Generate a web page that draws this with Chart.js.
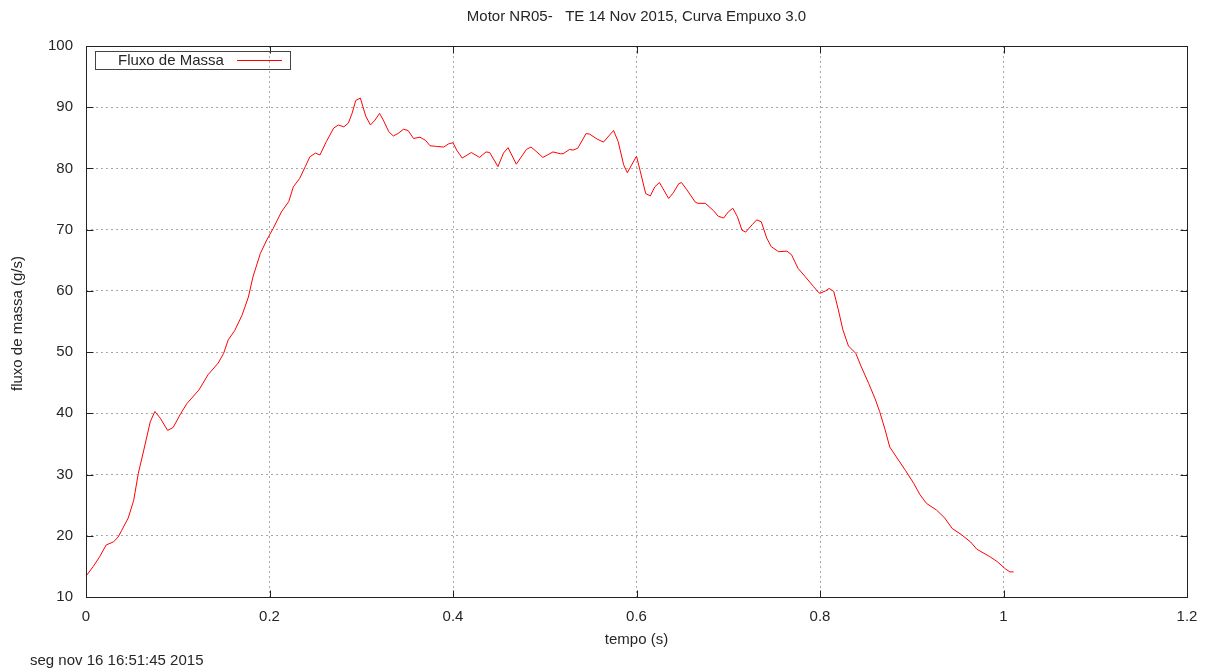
<!DOCTYPE html>
<html>
<head>
<meta charset="utf-8">
<script src="https://cdn.jsdelivr.net/npm/chart.js@4/dist/chart.umd.min.js"></script>
<style>
  html, body { margin: 0; padding: 0; background: #fff; overflow: hidden; }
  #wrap { width: 1211px; height: 672px; position: relative; }
</style>
</head>
<body>
<div id="wrap"><canvas id="c" width="1211" height="672"></canvas></div>
<script>
// Texts
const chartTitle = 'Motor NR05-   TE 14 Nov 2015, Curva Empuxo 3.0';
const seriesName = 'Fluxo de Massa';
const xAxisLabel = 'tempo (s)';
const yAxisLabel = 'fluxo de massa (g/s)';
const stampText = 'seg nov 16 16:51:45 2015';

// Tick values
const xTicks = [0, 0.2, 0.4, 0.6, 0.8, 1, 1.2];
const yTicks = [10, 20, 30, 40, 50, 60, 70, 80, 90, 100];

// Time (s)
const tempo = [
  0.000, 0.008, 0.015, 0.022, 0.030, 0.035, 0.039, 0.046, 0.052, 0.057,
  0.063, 0.070, 0.075, 0.081, 0.089, 0.095, 0.103, 0.110, 0.123, 0.133,
  0.144, 0.150, 0.155, 0.162, 0.170, 0.177, 0.182, 0.190, 0.197, 0.204,
  0.213, 0.221, 0.226, 0.233, 0.239, 0.244, 0.250, 0.255, 0.262, 0.270,
  0.275, 0.281, 0.286, 0.290, 0.294, 0.299, 0.305, 0.310, 0.315, 0.320,
  0.324, 0.330, 0.335, 0.340, 0.346, 0.351, 0.357, 0.364, 0.370, 0.375,
  0.382, 0.390, 0.395, 0.400, 0.404, 0.410, 0.420, 0.429, 0.436, 0.440,
  0.449, 0.455, 0.460, 0.469, 0.480, 0.485, 0.489, 0.498, 0.509, 0.517,
  0.520, 0.527, 0.531, 0.536, 0.545, 0.549, 0.557, 0.564, 0.575, 0.580,
  0.586, 0.590, 0.600, 0.604, 0.610, 0.615, 0.620, 0.625, 0.635, 0.640,
  0.646, 0.649, 0.655, 0.664, 0.667, 0.675, 0.684, 0.689, 0.695, 0.700,
  0.705, 0.710, 0.715, 0.719, 0.726, 0.731, 0.736, 0.742, 0.747, 0.755,
  0.764, 0.769, 0.776, 0.784, 0.793, 0.798, 0.800, 0.806, 0.810, 0.815,
  0.820, 0.825, 0.831, 0.839, 0.845, 0.853, 0.860, 0.865, 0.871, 0.876,
  0.884, 0.893, 0.902, 0.909, 0.916, 0.927, 0.936, 0.944, 0.954, 0.964,
  0.971, 0.985, 0.993, 1.002, 1.007, 1.011
];

// Mass flow (g/s)
const fluxo = [
  13.4, 15.0, 16.6, 18.5, 19.0, 19.8, 20.9, 22.9, 25.8, 30.2,
  34.0, 38.6, 40.3, 39.2, 37.2, 37.7, 39.9, 41.6, 43.8, 46.3,
  48.2, 49.8, 52.0, 53.5, 56.0, 59.0, 62.3, 66.1, 68.3, 70.2,
  72.9, 74.6, 77.0, 78.4, 80.3, 81.9, 82.5, 82.2, 84.4, 86.6,
  87.1, 86.8, 87.4, 89.0, 91.1, 91.5, 88.5, 87.1, 87.9, 89.0,
  87.9, 86.0, 85.3, 85.7, 86.4, 86.2, 84.9, 85.1, 84.6, 83.7,
  83.6, 83.5, 84.0, 84.2, 83.0, 81.7, 82.6, 81.8, 82.7, 82.6,
  80.3, 82.5, 83.4, 80.7, 83.1, 83.5, 83.0, 81.8, 82.7, 82.4,
  82.4, 83.1, 83.0, 83.3, 85.7, 85.6, 84.8, 84.3, 86.2, 84.4,
  80.6, 79.3, 82.0, 79.6, 75.9, 75.5, 77.0, 77.7, 75.1, 76.0,
  77.5, 77.7, 76.5, 74.5, 74.3, 74.3, 73.1, 72.2, 71.9, 72.9,
  73.5, 72.1, 69.9, 69.6, 70.8, 71.6, 71.3, 68.6, 67.2, 66.4,
  66.5, 65.9, 63.7, 62.3, 60.7, 59.8, 59.6, 60.0, 60.4, 59.9,
  56.9, 53.6, 51.0, 49.8, 47.6, 44.9, 42.4, 40.3, 37.3, 34.5,
  32.7, 30.7, 28.6, 26.7, 25.3, 24.2, 22.9, 21.2, 20.2, 19.0,
  17.8, 16.6, 15.8, 14.6, 14.1, 14.1
];

const FONT = '"Liberation Sans", Arial, sans-serif';
const FONT_SIZE = 15;
const TEXT_COLOR = '#262626';
const FRAME_COLOR = '#222';
const TICK_LEN = 7;

// Plot frame, inward tick marks, titles, key box and date stamp
const decorations = {
  id: 'decorations',
  afterDraw(chart) {
    const { ctx, chartArea: a, scales } = chart;
    const L = Math.round(a.left) + 0.5, R = Math.round(a.right) + 0.5;
    const T = Math.round(a.top) + 0.5, B = Math.round(a.bottom) + 0.5;
    ctx.save();
    ctx.strokeStyle = FRAME_COLOR;
    ctx.lineWidth = 1;
    ctx.setLineDash([]);
    ctx.strokeRect(L, T, R - L, B - T);

    ctx.beginPath();
    yTicks.forEach(v => {
      const y = Math.round(scales.y.getPixelForValue(v)) + 0.5;
      ctx.moveTo(L, y); ctx.lineTo(L + TICK_LEN, y);
      ctx.moveTo(R, y); ctx.lineTo(R - TICK_LEN, y);
    });
    xTicks.forEach(v => {
      const x = Math.round(scales.x.getPixelForValue(v)) + 0.5;
      ctx.moveTo(x, B); ctx.lineTo(x, B - TICK_LEN);
      ctx.moveTo(x, T); ctx.lineTo(x, T + TICK_LEN);
    });
    ctx.stroke();

    ctx.fillStyle = TEXT_COLOR;
    ctx.font = FONT_SIZE + 'px ' + FONT;
    ctx.textBaseline = 'middle';

    const cx = (a.left + a.right) / 2;
    ctx.textAlign = 'center';
    ctx.fillText(chartTitle, cx, 17);
    ctx.fillText(xAxisLabel, cx, 640);

    ctx.save();
    ctx.translate(18, (a.top + a.bottom) / 2 + 2);
    ctx.rotate(-Math.PI / 2);
    ctx.fillText(yAxisLabel, 0, 0);
    ctx.restore();

    ctx.textAlign = 'left';
    ctx.fillText(stampText, 30, 661);

    // key box
    const ds = chart.data.datasets[0];
    ctx.strokeStyle = '#444';
    ctx.strokeRect(95.5, 51.5, 195, 18);
    ctx.fillStyle = TEXT_COLOR;
    ctx.fillText(ds.label, 118, 60.5);
    ctx.strokeStyle = ds.borderColor;
    ctx.beginPath();
    ctx.moveTo(237, 60.5); ctx.lineTo(282, 60.5);
    ctx.stroke();
    ctx.restore();
  }
};

const points = tempo.map((t, i) => ({ x: t, y: fluxo[i] }));

new Chart(document.getElementById('c'), {
  type: 'line',
  data: {
    datasets: [{
      label: seriesName,
      data: points,
      borderColor: '#ff0000',
      borderWidth: 1,
      pointRadius: 0,
      tension: 0,
      fill: false
    }]
  },
  options: {
    responsive: false,
    animation: false,
    devicePixelRatio: 1,
    layout: { padding: { top: 46, right: 24, left: 0, bottom: 0 } },
    plugins: {
      legend: { display: false },
      title: { display: false },
      tooltip: { enabled: false }
    },
    scales: {
      x: {
        type: 'linear',
        min: 0,
        max: 1.2,
        afterBuildTicks: s => { s.ticks = xTicks.map(v => ({ value: v })); },
        afterFit: s => { s.height = 75; },
        ticks: {
          color: TEXT_COLOR,
          font: { family: FONT, size: FONT_SIZE },
          padding: 11,
          maxRotation: 0,
          callback: v => String(v)
        },
        grid: { color: '#a8a8a8', lineWidth: 1, drawTicks: false },
        border: { display: false, dash: [2, 3] }
      },
      y: {
        type: 'linear',
        min: 10,
        max: 100,
        afterBuildTicks: s => { s.ticks = yTicks.map(v => ({ value: v })); },
        afterFit: s => { s.width = 86; },
        ticks: {
          color: TEXT_COLOR,
          font: { family: FONT, size: FONT_SIZE },
          padding: 13,
          callback: v => String(v)
        },
        grid: { color: '#a8a8a8', lineWidth: 1, drawTicks: false },
        border: { display: false, dash: [2, 3] }
      }
    }
  },
  plugins: [decorations]
});
</script>
</body>
</html>
